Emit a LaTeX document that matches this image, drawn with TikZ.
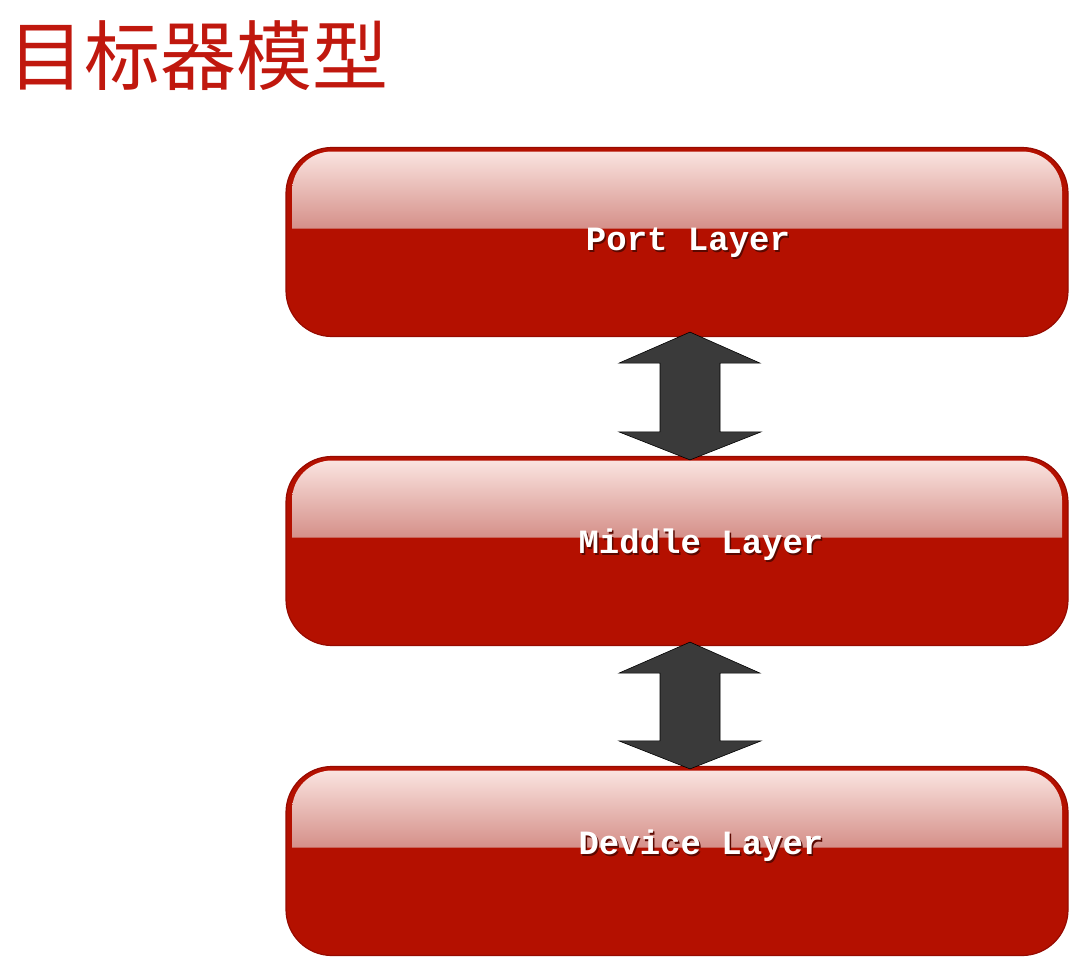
\documentclass[tikz,border=0pt]{standalone}
\usepackage{fontspec}
\newfontfamily\cjk{Noto Sans CJK SC}
\newfontfamily\labelfont{Liberation Mono}
\usepackage{xcolor}
\usetikzlibrary{calc}
\definecolor{boxred}{RGB}{180,16,0}
\definecolor{edgered}{RGB}{150,10,0}
\definecolor{titlered}{RGB}{192,24,14}
\definecolor{glosstop}{RGB}{252,232,228}
\definecolor{glossbot}{RGB}{160,25,15}
\definecolor{arrowgray}{RGB}{58,58,58}
\tikzset{
  layerbox/.style={draw=edgered,line width=1.2pt,fill=boxred,rounded corners=46pt,
    minimum width=782pt,minimum height=189pt,inner sep=0pt,
    path picture={
      \fill[top color=glosstop,bottom color=glossbot]
        ($(path picture bounding box.north west)+(6,81)$)
        [rounded corners=40pt] -- ($(path picture bounding box.north west)+(6,4)$)
        -- ($(path picture bounding box.north east)+(-6,4)$)
        [sharp corners] -- ($(path picture bounding box.north east)+(-6,81)$) -- cycle;
    }},
  layertext/.style={text=white,font=\labelfont\bfseries\fontsize{34}{34}\selectfont},
  layershadow/.style={text=black!50!boxred,font=\labelfont\bfseries\fontsize{34}{34}\selectfont},
  updown/.style={fill=arrowgray,draw=black,line width=0.6pt,line join=miter}
}
% double block arrow from tip #1 to tip #2
\newcommand{\layerarrow}[2]{%
  \draw[updown] (#1) -- ($(#1)+(70,31)$) -- ($(#1)+(30,31)$) -- ($(#2)+(30,-28)$)
    -- ($(#2)+(71,-28)$) -- (#2) -- ($(#2)+(-71,-28)$) -- ($(#2)+(-30,-28)$)
    -- ($(#1)+(-30,31)$) -- ($(#1)+(-71,31)$) -- cycle;}
\begin{document}
\begin{tikzpicture}[x=1pt,y=-1pt]
  \useasboundingbox (0,0) rectangle (1083,966);
  % title
  \node[anchor=west,inner sep=0pt,text=titlered,font=\cjk\fontsize{76}{76}\selectfont] (title) at (8,56) {目标器模型};
  % the three layers
  \node[layerbox] (port)   at (677,242) {};
  \node[layerbox] (middle) at (677,551) {};
  \node[layerbox] (device) at (677,861) {};
  \foreach \n/\dx/\dy/\t in {port/11/1/Port Layer,middle/24/-6/Middle Layer,device/24/-15/Device Layer} {
    \node[layershadow] at ($(\n)+(\dx+1.5,\dy+1.5)$) {\t};
    \node[layertext] (\n-text) at ($(\n)+(\dx,\dy)$) {\t};
  }
  % arrows between layers
  \coordinate (a1) at ($(port.south)+(13,-5)$);
  \coordinate (b1) at ($(middle.north)+(13,4)$);
  \coordinate (a2) at ($(middle.south)+(13,-4)$);
  \coordinate (b2) at ($(device.north)+(13,3)$);
  \layerarrow{a1}{b1}
  \layerarrow{a2}{b2}
\end{tikzpicture}
\end{document}
